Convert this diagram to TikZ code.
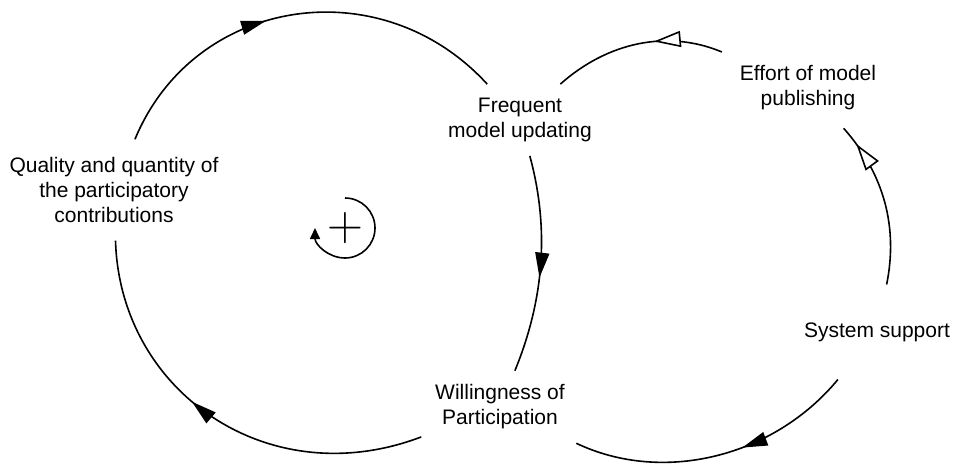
\documentclass[tikz,border=0pt]{standalone}
\usepackage{fontspec}
\setmainfont{Liberation Sans}
\usetikzlibrary{arrows.meta,decorations.markings}
\begin{document}
\begin{tikzpicture}[x=0.5pt,y=-0.5pt,
  lbl/.style={font=\fontsize{10.5}{12.5}\selectfont, align=center, inner sep=1pt, outer sep=4pt},
  link/.style={line width=0.8pt, black},
  fullhead/.style={postaction={decorate}, decoration={markings, mark=at position #1 with {\arrow{Triangle[length=12.5pt,width=7pt]}}}},
  openhead/.style={postaction={decorate}, decoration={markings, mark=at position #1 with {\arrow{Triangle[length=13.5pt,width=8pt,fill=white]}}}},
]
\useasboundingbox (0,0) rectangle (958,465);
\fill[white] (0,0) rectangle (958,465);

\node[lbl, outer sep=8pt] (q) at (114,190) {Quality and quantity of\\the participatory\\contributions};
\node[lbl, outer sep=6pt] (f) at (520,120) {Frequent\\model updating};
\node[lbl, outer sep=8pt] (e) at (808,88) {Effort of model\\publishing};
\node[lbl, outer sep=18pt] (s) at (877,332) {System support};
\node[lbl, outer sep=6pt] (w) at (500,407) {Willingness of\\Participation};
\node[inner sep=0pt, font=\fontsize{24}{24}\selectfont] (lp) at (345,228) {$+$};

\draw[link, fullhead=0.43] (q) .. controls (194,-3.5) and (381,-32) .. (f);
\draw[link, fullhead=0.56] (f) .. controls (550,230) and (543.5,301) .. (w);
\draw[link, fullhead=0.57] (w) .. controls (268.5,495) and (120,392) .. (q);
\draw[link, fullhead=0.41] (s) .. controls (774,457) and (663,484.5) .. (w);
\draw[link, openhead=0.88] (s) .. controls (898,228.4) and (885,175) .. (e);
\draw[link, openhead=0.40] (e) .. controls (667,29) and (607,42.6) .. (f);

\draw[link, -{Triangle[length=5.5pt,width=5pt]}] ([yshift=15pt]lp.center) arc[start angle=90, end angle=-180, radius=15pt];
\end{tikzpicture}
\end{document}
